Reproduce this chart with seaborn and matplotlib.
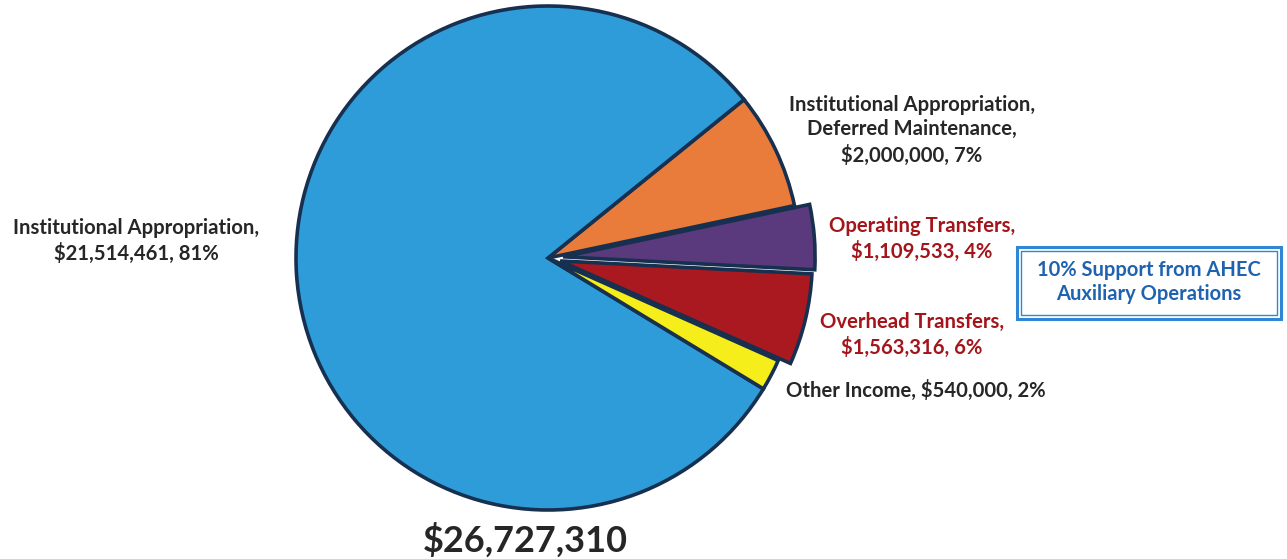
import matplotlib
matplotlib.use("Agg")
import matplotlib.pyplot as plt
from matplotlib.patches import Rectangle
import seaborn as sns

# Revenue sources (counter-clockwise from the start angle)
sources = [
    "Institutional Appropriation,\nDeferred Maintenance",
    "Institutional Appropriation",
    "Other Income",
    "Overhead Transfers",
    "Operating Transfers",
]
amounts = [2000000, 21514461, 540000, 1563316, 1109533]
percent_labels = ["7%", "81%", "2%", "6%", "4%"]
slice_colors = ["#E97B3B", "#2D9CD9", "#F5EE1A", "#A9191F", "#5A3A7C"]
offsets = [0.0, 0.0, 0.0, 0.05, 0.06]
total_label = "$26,727,310"
callout = "10% Support from AHEC\nAuxiliary Operations"

sns.set_theme(style="white")
plt.rcParams["font.family"] = ["Lato", "DejaVu Sans"]

W, H = 1287, 559
fig = plt.figure(figsize=(W / 100, H / 100), dpi=100)
fig.patch.set_facecolor("white")

# Pie axes: centre at (548, 258) px, radius about 252 px
cx, cy, r = 548, 258, 252
half = 1.1 * r
ax = fig.add_axes([(cx - half) / W, (H - cy - half) / H, 2 * half / W, 2 * half / H])
ax.pie(
    amounts,
    colors=slice_colors,
    explode=offsets,
    startangle=12,
    counterclock=True,
    wedgeprops=dict(edgecolor="#17304F", linewidth=2.6),
)
ax.set_xlim(-1.1, 1.1)
ax.set_ylim(-1.1, 1.1)
ax.set_aspect("equal")
ax.axis("off")


def fmt_money(v):
    return "${:,}".format(v)


def put(x, y, s, color="#262626", size=14.6, ha="center", weight="bold"):
    fig.text(x / W, 1 - y / H, s, ha=ha, va="center", color=color,
             fontsize=size, fontweight=weight, linespacing=1.3)


dark = "#262626"
red_text = "#A3151B"

put(136, 241, "{},\n{}, {}".format(sources[1], fmt_money(amounts[1]), percent_labels[1]), dark)
put(912, 130, "{},\n{}, {}".format(sources[0], fmt_money(amounts[0]), percent_labels[0]), dark)
put(922, 239, "{},\n{}, {}".format(sources[4], fmt_money(amounts[4]), percent_labels[4]), red_text)
put(912, 335, "{},\n{}, {}".format(sources[3], fmt_money(amounts[3]), percent_labels[3]), red_text)
put(786, 390, "{}, {}, {}".format(sources[2], fmt_money(amounts[2]), percent_labels[2]), dark, ha="left")
put(525, 540, total_label, dark, size=26)

# Double-bordered callout box
box_color = "#2F86D4"
fig.patches.append(Rectangle((1017 / W, 1 - 319 / H), (1281 - 1017) / W, (319 - 247) / H,
                             transform=fig.transFigure, fill=False,
                             edgecolor=box_color, linewidth=2.2))
fig.patches.append(Rectangle((1021 / W, 1 - 315 / H), (1277 - 1021) / W, (315 - 251) / H,
                             transform=fig.transFigure, fill=False,
                             edgecolor=box_color, linewidth=1.0))
put(1149, 282, callout, "#1F63B0", size=14.5)

fig.savefig("out.png", dpi=100, facecolor="white")
